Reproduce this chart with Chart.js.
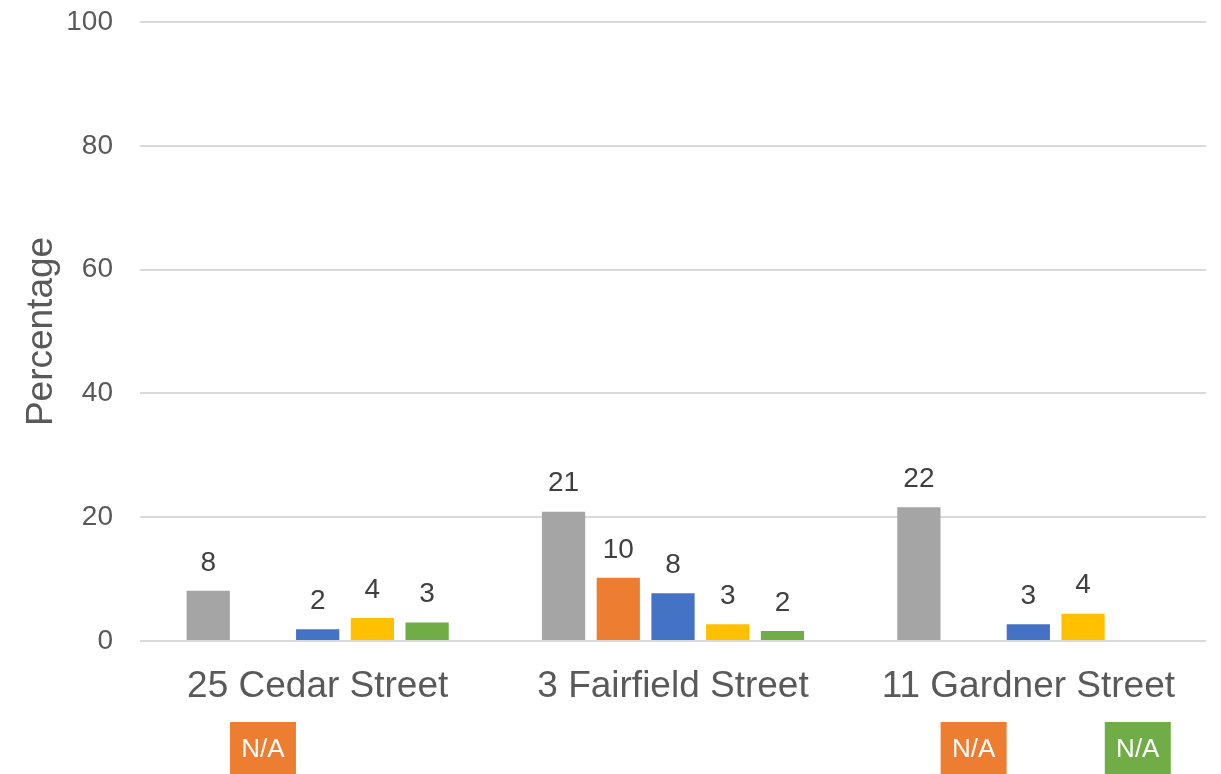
<!DOCTYPE html>
<html>
<head>
<meta charset="utf-8">
<title>Percentage by address</title>
<script src="https://cdn.jsdelivr.net/npm/chart.js@4/dist/chart.umd.min.js"></script>
<style>
  html, body { margin: 0; padding: 0; background: #fff; }
  #wrap { width: 1221px; height: 774px; }
</style>
</head>
<body>
<div id="wrap"><canvas id="chart" width="1221" height="774"></canvas></div>
<script>
// addresses along the x axis
const addresses = ['25 Cedar Street', '3 Fairfield Street', '11 Gardner Street'];

// one series per colour; null = no data (shown as an N/A tag under the axis)
const grayValues   = [8.1, 20.9, 21.6];
const orangeValues = [null, 10.2, null];
const blueValues   = [1.9, 7.7, 2.7];
const yellowValues = [3.7, 2.7, 4.4];
const greenValues  = [3.0, 1.6, null];

const yTicks = [0, 20, 40, 60, 80, 100];

const FONT = "'Liberation Sans', Arial, sans-serif";

function series(label, data, color) {
    return { label, data, backgroundColor: color, borderWidth: 0 };
}

// value labels above each bar
const barLabels = {
    id: 'barLabels',
    afterDatasetsDraw(chart) {
        const ctx = chart.ctx;
        ctx.save();
        ctx.font = '28px ' + FONT;
        ctx.fillStyle = '#404040';
        ctx.textAlign = 'center';
        ctx.textBaseline = 'middle';
        chart.data.datasets.forEach((ds, di) => {
            const meta = chart.getDatasetMeta(di);
            meta.data.forEach((bar, i) => {
                const v = ds.data[i];
                if (v === null) return;
                ctx.fillText(String(Math.round(v)), bar.x, bar.y - 28);
            });
        });
        ctx.restore();
    }
};

// "N/A" tags below the category labels for missing bars
const naTags = {
    id: 'naTags',
    afterDraw(chart) {
        const ctx = chart.ctx;
        ctx.save();
        chart.data.datasets.forEach((ds, di) => {
            const meta = chart.getDatasetMeta(di);
            meta.data.forEach((bar, i) => {
                if (ds.data[i] !== null) return;
                ctx.fillStyle = ds.backgroundColor;
                ctx.fillRect(bar.x - 33, 722, 66, 56);
                ctx.fillStyle = '#ffffff';
                ctx.font = '26px ' + FONT;
                ctx.textAlign = 'center';
                ctx.textBaseline = 'middle';
                ctx.fillText('N/A', bar.x, 750);
            });
        });
        ctx.restore();
    }
};

new Chart(document.getElementById('chart'), {
    type: 'bar',
    data: {
        labels: addresses,
        datasets: [
            series('Gray', grayValues, '#A5A5A5'),
            series('Orange', orangeValues, '#ED7D31'),
            series('Blue', blueValues, '#4472C4'),
            series('Yellow', yellowValues, '#FFC000'),
            series('Green', greenValues, '#70AD47'),
        ],
    },
    options: {
        responsive: false,
        animation: false,
        layout: { padding: { top: 22, right: 15, bottom: 0, left: 0 } },
        datasets: { bar: { categoryPercentage: 0.77, barPercentage: 0.79 } },
        plugins: {
            legend: { display: false },
            tooltip: { enabled: false },
        },
        scales: {
            x: {
                grid: { display: false, drawTicks: false },
                border: { display: false },
                ticks: {
                    color: '#595959',
                    font: { family: FONT, size: 37 },
                    padding: 24,
                },
                afterFit(scale) { scale.height = 133; },
            },
            y: {
                min: 0,
                max: 100,
                afterBuildTicks(scale) { scale.ticks = yTicks.map(v => ({ value: v })); },
                grid: { color: '#D9D9D9', lineWidth: 2, drawTicks: false },
                border: { display: false },
                ticks: {
                    color: '#595959',
                    font: { family: FONT, size: 28 },
                    padding: 27,
                },
                title: {
                    display: true,
                    text: 'Percentage',
                    color: '#595959',
                    font: { family: FONT, size: 37 },
                    padding: { top: 20, bottom: 0 },
                },
                afterFit(scale) {
                    scale.width = 140;
                    scale.paddingTop = 0;
                    scale.paddingBottom = 0;
                },
            },
        },
    },
    plugins: [barLabels, naTags],
});
</script>
</body>
</html>
